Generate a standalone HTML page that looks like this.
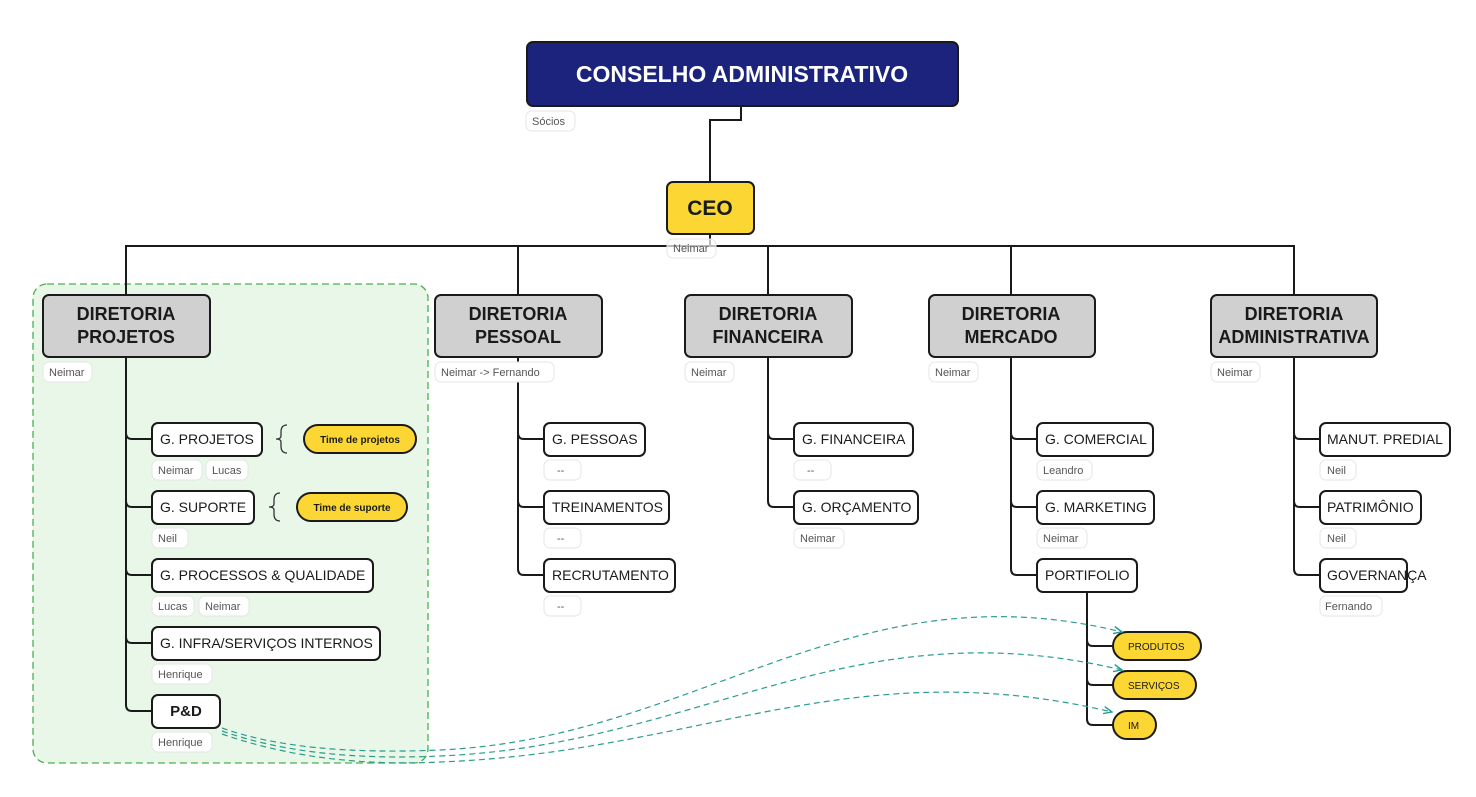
<!DOCTYPE html>
<html><head><meta charset="utf-8"><style>
html,body{margin:0;padding:0;background:#fff;}
svg{display:block;font-family:"Liberation Sans",sans-serif;}
.n{fill:#fff;stroke:#1a1a1a;stroke-width:2;}
.t{font-size:14px;fill:#1a1a1a;}
.tg{fill:#fff;stroke:#e6e6e6;stroke-width:1;}
.tt{font-size:11px;fill:#555;}
.l{fill:none;stroke:#1a1a1a;stroke-width:2;}
.d{fill:#d0d0d0;stroke:#1a1a1a;stroke-width:2;}
.dt{font-size:18px;font-weight:bold;fill:#1a1a1a;text-anchor:middle;}
.y{fill:#fcd734;stroke:#1a1a1a;stroke-width:2;}
.c{fill:none;stroke:#2a9d8f;stroke-width:1.2;stroke-dasharray:6 4;}
</style></head><body>
<svg width="1476" height="797" viewBox="0 0 1476 797">
<defs><marker id="a" markerWidth="8" markerHeight="8" refX="7" refY="4" orient="auto"><path d="M0,1 L7,4 L0,7" fill="none" stroke="#2a9d8f" stroke-width="1.2"/></marker></defs>
<rect x="33" y="284" width="395" height="479" rx="14" fill="#e8f7e8" stroke="#4caf50" stroke-width="1.3" stroke-dasharray="7 4"/>
<path class="l" d="M741,106 V120 H710 V182"/>
<path class="l" d="M126,295 V246 H1294 V295 M518,246 V295 M768,246 V295 M1011,246 V295 M710,234 V246"/>
<path class="l" d="M126,357 V705 Q126,711 132,711 H152 M126,433 Q126,439 132,439 H152 M126,501 Q126,507 132,507 H152 M126,569 Q126,575 132,575 H152 M126,637 Q126,643 132,643 H152"/>
<path class="l" d="M518,357 V569 Q518,575 524,575 H544 M518,433 Q518,439 524,439 H544 M518,501 Q518,507 524,507 H544"/>
<path class="l" d="M768,357 V501 Q768,507 774,507 H794 M768,433 Q768,439 774,439 H794"/>
<path class="l" d="M1011,357 V569 Q1011,575 1017,575 H1037 M1011,433 Q1011,439 1017,439 H1037 M1011,501 Q1011,507 1017,507 H1037"/>
<path class="l" d="M1294,357 V569 Q1294,575 1300,575 H1320 M1294,433 Q1294,439 1300,439 H1320 M1294,501 Q1294,507 1300,507 H1320"/>
<path class="l" d="M1087,591 V719 Q1087,725 1093,725 H1113 M1087,640 Q1087,646 1093,646 H1113 M1087,679 Q1087,685 1093,685 H1113"/>
<rect x="527" y="42" width="431" height="64" rx="6" fill="#1c237c" stroke="#1a1a1a" stroke-width="2"/>
<text x="742" y="82" font-size="23" font-weight="bold" fill="#fff" text-anchor="middle">CONSELHO ADMINISTRATIVO</text>
<rect class="tg" x="526" y="111" width="49" height="20" rx="6"/><text class="tt" x="532" y="125">Sócios</text>
<rect class="y" x="667" y="182" width="87" height="52" rx="6"/>
<text x="710" y="215" font-size="21" font-weight="bold" fill="#1a1a1a" text-anchor="middle">CEO</text>
<rect class="tg" x="667" y="239" width="49" height="19" rx="6" fill-opacity="0.7"/><text class="tt" x="673" y="252">Neimar</text>
<rect class="d" x="43" y="295" width="167" height="62" rx="6"/><text class="dt" x="126" y="320">DIRETORIA</text><text class="dt" x="126" y="343">PROJETOS</text>
<rect class="d" x="435" y="295" width="167" height="62" rx="6"/><text class="dt" x="518" y="320">DIRETORIA</text><text class="dt" x="518" y="343">PESSOAL</text>
<rect class="d" x="685" y="295" width="167" height="62" rx="6"/><text class="dt" x="768" y="320">DIRETORIA</text><text class="dt" x="768" y="343">FINANCEIRA</text>
<rect class="d" x="929" y="295" width="166" height="62" rx="6"/><text class="dt" x="1011" y="320">DIRETORIA</text><text class="dt" x="1011" y="343">MERCADO</text>
<rect class="d" x="1211" y="295" width="166" height="62" rx="6"/><text class="dt" x="1294" y="320">DIRETORIA</text><text class="dt" x="1294" y="343">ADMINISTRATIVA</text>
<rect class="tg" x="43" y="362" width="49" height="20" rx="6"/><text class="tt" x="49" y="376">Neimar</text>
<rect class="tg" x="435" y="362" width="119" height="20" rx="6"/><text class="tt" x="441" y="376">Neimar -&gt; Fernando</text>
<rect class="tg" x="685" y="362" width="49" height="20" rx="6"/><text class="tt" x="691" y="376">Neimar</text>
<rect class="tg" x="929" y="362" width="49" height="20" rx="6"/><text class="tt" x="935" y="376">Neimar</text>
<rect class="tg" x="1211" y="362" width="49" height="20" rx="6"/><text class="tt" x="1217" y="376">Neimar</text>
<rect class="n" x="152" y="423" width="110" height="33" rx="6"/><text class="t" x="160" y="444">G. PROJETOS</text>
<rect class="tg" x="152" y="460" width="50" height="20" rx="6"/><text class="tt" x="158" y="474">Neimar</text>
<rect class="tg" x="206" y="460" width="42" height="20" rx="6"/><text class="tt" x="212" y="474">Lucas</text>
<path d="M287,425 Q281,425 281,432 V436 Q281,439 276,439 Q281,439 281,442 V446 Q281,453 287,453" fill="none" stroke="#333" stroke-width="1.3"/>
<rect class="y" x="304" y="425" width="112" height="28" rx="14"/><text x="360" y="443" font-size="10" font-weight="bold" text-anchor="middle" fill="#1a1a1a">Time de projetos</text>
<rect class="n" x="152" y="491" width="102" height="33" rx="6"/><text class="t" x="160" y="512">G. SUPORTE</text>
<rect class="tg" x="152" y="528" width="36" height="20" rx="6"/><text class="tt" x="158" y="542">Neil</text>
<path d="M280,493 Q274,493 274,500 V504 Q274,507 269,507 Q274,507 274,510 V514 Q274,521 280,521" fill="none" stroke="#333" stroke-width="1.3"/>
<rect class="y" x="297" y="493" width="110" height="28" rx="14"/><text x="352" y="511" font-size="10" font-weight="bold" text-anchor="middle" fill="#1a1a1a">Time de suporte</text>
<rect class="n" x="152" y="559" width="221" height="33" rx="6"/><text class="t" x="160" y="580">G. PROCESSOS &amp; QUALIDADE</text>
<rect class="tg" x="152" y="596" width="42" height="20" rx="6"/><text class="tt" x="158" y="610">Lucas</text>
<rect class="tg" x="199" y="596" width="50" height="20" rx="6"/><text class="tt" x="205" y="610">Neimar</text>
<rect class="n" x="152" y="627" width="228" height="33" rx="6"/><text class="t" x="160" y="648">G. INFRA/SERVIÇOS INTERNOS</text>
<rect class="tg" x="152" y="664" width="60" height="20" rx="6"/><text class="tt" x="158" y="678">Henrique</text>
<rect class="n" x="152" y="695" width="68" height="33" rx="6"/><text x="186" y="716" font-size="15" font-weight="bold" text-anchor="middle" fill="#1a1a1a">P&amp;D</text>
<rect class="tg" x="152" y="732" width="60" height="20" rx="6"/><text class="tt" x="158" y="746">Henrique</text>
<rect class="n" x="544" y="423" width="101" height="33" rx="6"/><text class="t" x="552" y="444">G. PESSOAS</text>
<rect class="tg" x="544" y="460" width="37" height="20" rx="6"/><text class="tt" x="557" y="474">--</text>
<rect class="n" x="544" y="491" width="125" height="33" rx="6"/><text class="t" x="552" y="512">TREINAMENTOS</text>
<rect class="tg" x="544" y="528" width="37" height="20" rx="6"/><text class="tt" x="557" y="542">--</text>
<rect class="n" x="544" y="559" width="131" height="33" rx="6"/><text class="t" x="552" y="580">RECRUTAMENTO</text>
<rect class="tg" x="544" y="596" width="37" height="20" rx="6"/><text class="tt" x="557" y="610">--</text>
<rect class="n" x="794" y="423" width="119" height="33" rx="6"/><text class="t" x="802" y="444">G. FINANCEIRA</text>
<rect class="tg" x="794" y="460" width="37" height="20" rx="6"/><text class="tt" x="807" y="474">--</text>
<rect class="n" x="794" y="491" width="124" height="33" rx="6"/><text class="t" x="802" y="512">G. ORÇAMENTO</text>
<rect class="tg" x="794" y="528" width="50" height="20" rx="6"/><text class="tt" x="800" y="542">Neimar</text>
<rect class="n" x="1037" y="423" width="116" height="33" rx="6"/><text class="t" x="1045" y="444">G. COMERCIAL</text>
<rect class="tg" x="1037" y="460" width="55" height="20" rx="6"/><text class="tt" x="1043" y="474">Leandro</text>
<rect class="n" x="1037" y="491" width="117" height="33" rx="6"/><text class="t" x="1045" y="512">G. MARKETING</text>
<rect class="tg" x="1037" y="528" width="50" height="20" rx="6"/><text class="tt" x="1043" y="542">Neimar</text>
<rect class="n" x="1037" y="559" width="100" height="33" rx="6"/><text class="t" x="1045" y="580">PORTIFOLIO</text>
<rect class="y" x="1113" y="632" width="88" height="28" rx="14"/><text x="1128" y="650" font-size="10" fill="#1a1a1a">PRODUTOS</text>
<rect class="y" x="1113" y="671" width="83" height="28" rx="14"/><text x="1128" y="689" font-size="10" fill="#1a1a1a">SERVIÇOS</text>
<rect class="y" x="1113" y="711" width="43" height="28" rx="14"/><text x="1128" y="729" font-size="10" fill="#1a1a1a">IM</text>
<rect class="n" x="1320" y="423" width="130" height="33" rx="6"/><text class="t" x="1327" y="444">MANUT. PREDIAL</text>
<rect class="tg" x="1320" y="460" width="36" height="20" rx="6"/><text class="tt" x="1327" y="474">Neil</text>
<rect class="n" x="1320" y="491" width="101" height="33" rx="6"/><text class="t" x="1327" y="512">PATRIMÔNIO</text>
<rect class="tg" x="1320" y="528" width="36" height="20" rx="6"/><text class="tt" x="1327" y="542">Neil</text>
<rect class="n" x="1320" y="559" width="87" height="33" rx="6"/><text class="t" x="1327" y="580">GOVERNANÇA</text>
<rect class="tg" x="1320" y="596" width="62" height="20" rx="6"/><text class="tt" x="1325" y="610">Fernando</text>
<path class="c" marker-end="url(#a)" d="M222,728 Q300,756 440,750 C700,738 850,565 1122,632"/>
<path class="c" marker-end="url(#a)" d="M222,731 Q310,762 440,756 C700,745 850,605 1122,670"/>
<path class="c" marker-end="url(#a)" d="M222,734 Q320,768 440,762 C700,752 850,650 1112,712"/>
</svg>
</body></html>
